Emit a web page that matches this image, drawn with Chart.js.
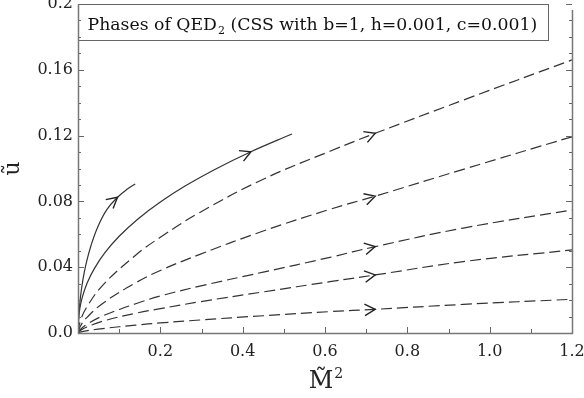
<!DOCTYPE html>
<html>
<head>
<meta charset="utf-8">
<script src="https://cdn.jsdelivr.net/npm/chart.js@4.4.1/dist/chart.umd.min.js"></script>
<style>
  html, body { margin: 0; padding: 0; background: #fff; }
  #wrap { width: 584px; height: 398px; }
</style>
</head>
<body>
<div id="wrap"><canvas id="graph"></canvas></div>
<script>
// Werte (M~^2 gegen u~)
const curve1X = [0, 0.002, 0.006, 0.012, 0.02, 0.032, 0.048, 0.07, 0.096, 0.12, 0.139];
const curve1Y = [0, 0.011, 0.022, 0.0325, 0.0425, 0.0535, 0.0645, 0.075, 0.0825, 0.0875, 0.0906];

const curve2X = [0, 0.003, 0.01, 0.022, 0.04, 0.065, 0.1, 0.145, 0.2, 0.26, 0.33, 0.42, 0.52];
const curve2Y = [0, 0.0127, 0.0214, 0.0303, 0.0393, 0.0487, 0.0588, 0.0692, 0.0796, 0.0893, 0.0991, 0.1102, 0.121];

const dashedX = [0, 0.005, 0.02, 0.06, 0.14, 0.2, 0.296, 0.45, 0.612, 0.722, 0.936, 1.2];
const curve3Y = [0, 0.0068, 0.0152, 0.029, 0.0473, 0.0582, 0.0733, 0.0935, 0.1105, 0.1214, 0.1416, 0.166];
const curve4Y = [0, 0.0038, 0.009, 0.018, 0.0305, 0.038, 0.0478, 0.062, 0.0752, 0.0832, 0.0995, 0.1193];
const curve5Y = [0, 0.002, 0.005, 0.0104, 0.0178, 0.0225, 0.0285, 0.037, 0.046, 0.0525, 0.0638, 0.0748];
const curve6Y = [0, 0.0014, 0.0035, 0.0072, 0.012, 0.0148, 0.019, 0.025, 0.0312, 0.0353, 0.0434, 0.0505];
const curve7Y = [0, 0.0005, 0.0013, 0.0027, 0.0048, 0.0061, 0.0079, 0.0105, 0.013, 0.0144, 0.0174, 0.0205];

// Pfeilspitzen (Flussrichtung)
const arrowX = [0.096, 0.42, 0.722, 0.722, 0.722, 0.722, 0.722];
const arrowY = [0.0825, 0.1102, 0.1214, 0.0832, 0.0525, 0.0353, 0.0144];

const xTickValues = [0.2, 0.4, 0.6, 0.8, 1.0, 1.2];
const xTickLabels = ['0.2', '0.4', '0.6', '0.8', '1.0', '1.2'];
const yTickValues = [0, 0.04, 0.08, 0.12, 0.16, 0.2];
const yTickLabels = ['0.0', '0.04', '0.08', '0.12', '0.16', '0.2'];

const titleMain = 'Phases of QED';
const titleSub = '2';
const titleRest = ' (CSS with b=1, h=0.001, c=0.001)';
const xTitle = 'M';
const xTitleSup = '2';
const yTitle = '\u0169';

const serif = "'DejaVu Serif', serif";

function toPoints(xs, ys) {
  return xs.map((x, i) => ({ x: x, y: ys[i] }));
}

const curves = [
  { xs: curve1X, ys: curve1Y, dash: [] },
  { xs: curve2X, ys: curve2Y, dash: [] },
  { xs: dashedX, ys: curve3Y, dash: [11, 5] },
  { xs: dashedX, ys: curve4Y, dash: [11, 5] },
  { xs: dashedX, ys: curve5Y, dash: [11, 5] },
  { xs: dashedX, ys: curve6Y, dash: [11, 5] },
  { xs: dashedX, ys: curve7Y, dash: [11, 5] },
];

function labelFor(values, labels, v) {
  const i = values.findIndex((t) => Math.abs(t - v) < 1e-6);
  return i >= 0 ? labels[i] : '';
}

// Rahmen, nach innen zeigende Striche und x-Achsentitel
const frameTicks = {
  id: 'frameTicks',
  afterDraw(chart) {
    const { ctx, chartArea: a, scales } = chart;
    const x = scales.x, y = scales.y;
    ctx.save();
    ctx.strokeStyle = '#666';
    ctx.lineWidth = 1;
    ctx.beginPath();
    for (let i = 0; i <= 20; i++) {
      const py = Math.round(y.getPixelForValue(i * 0.01)) + 0.5;
      const len = i % 4 === 0 ? 6 : 3;
      ctx.moveTo(a.left, py); ctx.lineTo(a.left + len, py);
      ctx.moveTo(a.right, py); ctx.lineTo(a.right - len, py);
    }
    for (let i = 1; i <= 12; i++) {
      const px = Math.round(x.getPixelForValue(i * 0.1)) + 0.5;
      const len = i % 2 === 0 ? 6 : 4;
      ctx.moveTo(px, a.bottom); ctx.lineTo(px, a.bottom - len);
    }
    ctx.stroke();
    ctx.lineWidth = 1.5;
    ctx.strokeStyle = '#777';
    ctx.beginPath();
    ctx.moveTo(Math.round(a.left) + 0.5, a.top);
    ctx.lineTo(Math.round(a.left) + 0.5, Math.round(a.bottom) + 0.5);
    ctx.lineTo(Math.round(a.right) + 0.5, Math.round(a.bottom) + 0.5);
    ctx.lineTo(Math.round(a.right) + 0.5, a.top + 6);
    ctx.stroke();

    // M mit Tilde und Hochzahl
    ctx.fillStyle = '#222';
    ctx.textBaseline = 'alphabetic';
    ctx.font = '24px ' + serif;
    const mW = ctx.measureText(xTitle).width;
    const cx = (a.left + a.right) / 2 - 4;
    const base = 388;
    ctx.textAlign = 'center';
    ctx.fillText(xTitle, cx, base);
    ctx.fillText('\u02DC', cx, base - 2);
    ctx.font = '14px ' + serif;
    ctx.textAlign = 'left';
    ctx.fillText(xTitleSup, cx + mW / 2 + 1, base - 10);
    ctx.restore();
  },
};

// Pfeile auf den Kurven und Titelkasten
const arrowsAndBox = {
  id: 'arrowsAndBox',
  afterDatasetsDraw(chart) {
    const { ctx, chartArea: a, scales } = chart;
    const x = scales.x, y = scales.y;
    ctx.save();
    ctx.strokeStyle = '#222';
    ctx.lineWidth = 1.4;
    ctx.setLineDash([]);
    arrowX.forEach((ax, k) => {
      const c = curves[k];
      let j = 0;
      while (j < c.xs.length - 2 && c.xs[j + 1] <= ax) j++;
      const dx = x.getPixelForValue(c.xs[j + 1]) - x.getPixelForValue(c.xs[j]);
      const dy = y.getPixelForValue(c.ys[j + 1]) - y.getPixelForValue(c.ys[j]);
      const ang = Math.atan2(dy, dx);
      const tx = x.getPixelForValue(ax);
      const ty = y.getPixelForValue(arrowY[k]);
      const len = 12, spread = 0.5;
      ctx.beginPath();
      ctx.moveTo(tx - len * Math.cos(ang - spread), ty - len * Math.sin(ang - spread));
      ctx.lineTo(tx, ty);
      ctx.lineTo(tx - len * Math.cos(ang + spread), ty - len * Math.sin(ang + spread));
      ctx.stroke();
    });

    // Kasten mit Titel
    const bx = Math.round(a.left) + 0.5, by = Math.round(a.top) + 0.5;
    const bw = 470, bh = 36;
    ctx.fillStyle = '#fff';
    ctx.fillRect(bx, by, bw, bh);
    ctx.strokeStyle = '#666';
    ctx.lineWidth = 1;
    ctx.strokeRect(bx, by, bw, bh);
    ctx.fillStyle = '#111';
    ctx.textBaseline = 'alphabetic';
    ctx.font = '17.3px ' + serif;
    let tx = bx + 9;
    const base = by + 25;
    ctx.fillText(titleMain, tx, base);
    tx += ctx.measureText(titleMain).width + 1;
    ctx.font = '11px ' + serif;
    ctx.fillText(titleSub, tx, base + 4);
    tx += ctx.measureText(titleSub).width;
    ctx.font = '17.3px ' + serif;
    ctx.fillText(titleRest, tx, base);
    ctx.restore();
  },
};

const ctx = document.getElementById('graph').getContext('2d');

const chart = new Chart(ctx, {
  type: 'scatter',
  data: {
    datasets: curves.map((c) => ({
      data: toPoints(c.xs, c.ys),
      showLine: true,
      borderColor: '#333',
      borderWidth: 1.2,
      borderDash: c.dash,
      pointRadius: 0,
      tension: 0.4,
      fill: false,
    })),
  },
  options: {
    responsive: true,
    maintainAspectRatio: false,
    animation: false,
    layout: { padding: { top: 4, right: 12, left: 0, bottom: 0 } },
    plugins: {
      legend: { display: false },
      tooltip: { enabled: false },
    },
    scales: {
      x: {
        type: 'linear',
        min: 0,
        max: 1.2,
        grid: { display: false, drawTicks: false },
        border: { display: false },
        ticks: {
          stepSize: 0.2,
          padding: 9,
          maxRotation: 0,
          color: '#222',
          font: { family: serif, size: 16 },
          callback: (v) => labelFor(xTickValues, xTickLabels, v),
        },
        afterFit(scale) {
          scale.height = 65;
          scale.paddingLeft = 0;
          scale.paddingRight = 0;
        },
      },
      y: {
        min: 0,
        max: 0.2,
        grid: { display: false, drawTicks: false },
        border: { display: false },
        ticks: {
          stepSize: 0.04,
          padding: 5,
          color: '#222',
          font: { family: serif, size: 16 },
          callback: (v) => labelFor(yTickValues, yTickLabels, v),
        },
        title: {
          display: true,
          text: yTitle,
          color: '#222',
          font: { family: serif, size: 22 },
          padding: { top: 0, bottom: 0 },
        },
        afterFit(scale) {
          scale.width = 78;
          scale.paddingTop = 0;
          scale.paddingBottom = 0;
        },
      },
    },
  },
  plugins: [arrowsAndBox, frameTicks],
});
</script>
</body>
</html>
